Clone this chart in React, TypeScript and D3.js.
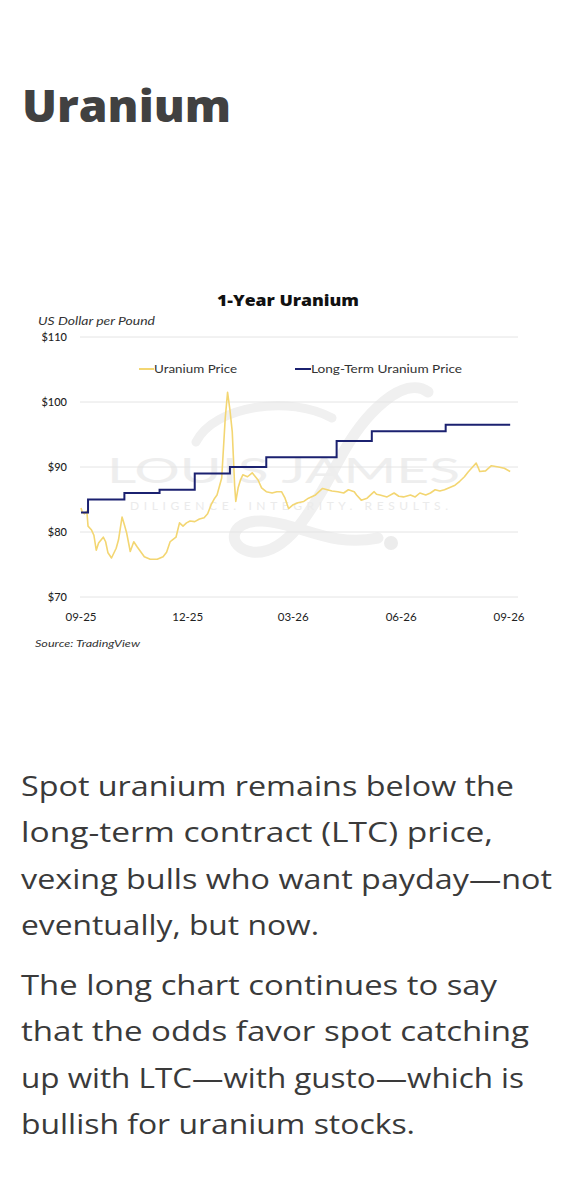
import React from "react";
import * as d3 from "d3";

// ---------- data ----------
const spotDates = [
  "2025-09-01","2025-09-02","2025-09-04","2025-09-06","2025-09-07","2025-09-10","2025-09-12","2025-09-14","2025-09-16","2025-09-20",
  "2025-09-22","2025-09-24","2025-09-27","2025-10-01","2025-10-03","2025-10-06","2025-10-08","2025-10-10","2025-10-13","2025-10-16",
  "2025-10-19","2025-10-25","2025-10-30","2025-11-05","2025-11-10","2025-11-13","2025-11-16","2025-11-18","2025-11-21","2025-11-24",
  "2025-11-27","2025-11-30","2025-12-03","2025-12-07","2025-12-11","2025-12-15","2025-12-18","2025-12-21","2025-12-24","2025-12-26",
  "2025-12-30","2026-01-02","2026-01-04","2026-01-06","2026-01-08","2026-01-10","2026-01-11","2026-01-13","2026-01-15","2026-01-17",
  "2026-01-21","2026-01-25","2026-01-30","2026-02-02","2026-02-06","2026-02-11","2026-02-15","2026-02-19","2026-02-22","2026-02-25",
  "2026-03-01","2026-03-05","2026-03-10","2026-03-14","2026-03-20","2026-03-26","2026-03-30","2026-04-03","2026-04-08","2026-04-13",
  "2026-04-17","2026-04-22","2026-04-24","2026-04-28","2026-05-03","2026-05-09","2026-05-11","2026-05-14","2026-05-20","2026-05-26",
  "2026-05-30","2026-06-03","2026-06-09","2026-06-13","2026-06-17","2026-06-22","2026-06-26","2026-06-30","2026-07-04","2026-07-08",
  "2026-07-13","2026-07-17","2026-07-21","2026-07-25","2026-07-28","2026-07-31","2026-08-04","2026-08-06","2026-08-07","2026-08-12",
  "2026-08-17","2026-08-23","2026-08-28","2026-09-02"
];
const spotValues = [
  83.7, 83.1, 82.8, 83.2, 80.9, 80.3, 79.5, 77.2, 78.3, 79.2,
  78.5, 76.8, 76.0, 77.5, 78.8, 82.3, 81.1, 79.8, 77.0, 78.5,
  77.7, 76.2, 75.8, 75.8, 76.2, 76.9, 78.5, 78.8, 79.2, 81.4,
  80.9, 81.4, 81.7, 81.6, 82.0, 82.2, 82.8, 84.2, 85.2, 85.7,
  88.3, 97.5, 101.5, 98.8, 95.4, 87.2, 84.7, 86.8, 88.0, 88.8,
  88.5, 89.1, 88.0, 86.8, 86.2, 86.0, 86.2, 86.2, 85.2, 83.6,
  84.2, 84.5, 84.7, 85.2, 85.7, 86.7, 86.5, 86.3, 86.2, 86.0,
  86.5, 86.2, 85.7, 84.9, 85.2, 86.2, 85.8, 85.7, 85.4, 86.0,
  85.5, 85.4, 85.7, 85.4, 86.0, 85.7, 86.0, 86.5, 86.3, 86.5,
  86.9, 87.2, 87.8, 88.5, 89.2, 89.8, 90.6, 89.8, 89.3, 89.4,
  90.2, 90.0, 89.8, 89.3
];
const ltcDates = [
  "2025-09-01","2025-09-07","2025-10-08","2025-11-07","2025-12-07","2026-01-06",
  "2026-02-06","2026-04-07","2026-05-07","2026-07-09","2026-09-02"
];
const ltcValues = [83, 85, 86, 86.5, 89, 90, 91.5, 94, 95.5, 96.5, 96.5];

const seriesNames = ["Uranium Price", "Long-Term Uranium Price"];
const yTicks = [70, 80, 90, 100, 110];
const xTickDates = ["2025-09-01", "2025-12-01", "2026-03-01", "2026-06-01", "2026-09-01"];
const xTickLabels = ["09-25", "12-25", "03-26", "06-26", "09-26"];

const para1 = [
  "Spot uranium remains below the",
  "long-term contract (LTC) price,",
  "vexing bulls who want payday\u2014not",
  "eventually, but now.",
];
const para2 = [
  "The long chart continues to say",
  "that the odds favor spot catching",
  "up with LTC\u2014with gusto\u2014which is",
  "bullish for uranium stocks.",
];

// ---------- styles ----------
const W = 583;
const H = 1199;
const YELLOW = "#f3d672";
const NAVY = "#1b2170";
const GRID = "#e4e4e4";
const FONT = "Lato, 'Open Sans', sans-serif";
const PFONT = "'Open Sans', Lato, sans-serif";

const para1Widths = [493, 472, 531, 298];
const para2Widths = [476, 508, 503, 394];

export default function App() {
  const parse = d3.utcParse("%Y-%m-%d");
  const x = d3
    .scaleUtc()
    .domain([parse("2025-09-01")!, parse("2026-09-01")!])
    .range([81, 509]);
  const y = d3.scaleLinear().domain([70, 110]).range([597, 337]);

  const spot = spotDates.map((d, i) => ({ date: parse(d)!, value: spotValues[i] }));
  const ltc = ltcDates.map((d, i) => ({ date: parse(d)!, value: ltcValues[i] }));

  const spotLine = d3
    .line<{ date: Date; value: number }>()
    .x((d) => x(d.date))
    .y((d) => y(d.value))
    .curve(d3.curveLinear);
  const ltcLine = d3
    .line<{ date: Date; value: number }>()
    .x((d) => x(d.date))
    .y((d) => y(d.value))
    .curve(d3.curveStepAfter);

  const gridX0 = 80;
  const gridX1 = 518;

  return (
    <div style={{ position: "absolute", left: 0, top: 0, width: W, height: H, background: "#fff" }}>
      <svg width={W} height={H} viewBox={`0 0 ${W} ${H}`} style={{ display: "block" }}>
        <rect x={0} y={0} width={W} height={H} fill="#fff" />

        {/* page heading */}
        <text
          x={22}
          y={122}
          fontFamily={PFONT}
          fontWeight={800}
          fontSize={45}
          fill="#414141"
          textLength={209}
          lengthAdjust="spacingAndGlyphs"
        >
          Uranium
        </text>

        {/* watermark logo (decorative) */}
        <g fill="none" stroke="#f0f0f0" strokeLinecap="round">
          <path d="M 196 442 C 215 405, 290 395, 332 418" strokeWidth={9} />
          <path d="M 428 392 C 405 375, 365 410, 338 462 C 310 515, 285 556, 252 552 C 226 548, 228 520, 262 521 C 300 523, 330 548, 378 538" strokeWidth={11} />
        </g>
        <circle cx={391} cy={543} r={7} fill="#ececec" />
        <text
          x={107}
          y={483}
          fontFamily={FONT}
          fontSize={35}
          fill="#eeeeee"
          textLength={353}
          lengthAdjust="spacingAndGlyphs"
        >
          LOUIS JAMES
        </text>
        <text
          x={130}
          y={510}
          fontFamily={FONT}
          fontSize={12}
          fill="#ebebeb"
          textLength={318}
          lengthAdjust="spacing"
        >
          DILIGENCE. INTEGRITY. RESULTS.
        </text>

        {/* chart title */}
        <text
          x={288}
          y={306}
          textAnchor="middle"
          fontFamily={PFONT}
          fontWeight={800}
          fontSize={16}
          fill="#111"
          textLength={142}
          lengthAdjust="spacingAndGlyphs"
        >
          1-Year Uranium
        </text>

        {/* axis unit */}
        <text
          x={38}
          y={325}
          fontFamily={FONT}
          fontStyle="italic"
          fontSize={11}
          fill="#333"
          textLength={117}
          lengthAdjust="spacingAndGlyphs"
        >
          US Dollar per Pound
        </text>

        {/* grid + y labels */}
        {yTicks.map((t) => (
          <g key={t}>
            <line x1={gridX0} x2={gridX1} y1={y(t)} y2={y(t)} stroke={GRID} strokeWidth={1} />
            <text x={67} y={y(t) + 4} textAnchor="end" fontFamily={FONT} fontSize={11} fill="#222" fontWeight={500}>
              ${t}
            </text>
          </g>
        ))}

        {/* x labels */}
        {xTickDates.map((d, i) => (
          <text
            key={d}
            x={x(parse(d)!)}
            y={621}
            textAnchor="middle"
            fontFamily={FONT}
            fontSize={11.5}
            fill="#222"
          >
            {xTickLabels[i]}
          </text>
        ))}

        {/* legend */}
        <line x1={139} x2={154} y1={369} y2={369} stroke={YELLOW} strokeWidth={2} />
        <text x={154} y={373} fontFamily={FONT} fontSize={11} fill="#333" textLength={83} lengthAdjust="spacingAndGlyphs">
          {seriesNames[0]}
        </text>
        <line x1={295} x2={311} y1={369} y2={369} stroke={NAVY} strokeWidth={2} />
        <text x={311} y={373} fontFamily={FONT} fontSize={11} fill="#333" textLength={151} lengthAdjust="spacingAndGlyphs">
          {seriesNames[1]}
        </text>

        {/* series */}
        <path d={spotLine(spot) || ""} fill="none" stroke={YELLOW} strokeWidth={1.6} strokeLinejoin="round" />
        <path d={ltcLine(ltc) || ""} fill="none" stroke={NAVY} strokeWidth={2} />

        {/* source */}
        <text
          x={35}
          y={647}
          fontFamily={FONT}
          fontStyle="italic"
          fontSize={10}
          fill="#333"
          textLength={105}
          lengthAdjust="spacingAndGlyphs"
        >
          Source: TradingView
        </text>

        {/* body text */}
        {para1.map((line, i) => (
          <text
            key={"p1" + i}
            x={21}
            y={796 + i * 46.3}
            fontFamily={PFONT}
            fontSize={28}
            fontWeight={400}
            fill="#3a3a3a"
            textLength={para1Widths[i]}
            lengthAdjust="spacingAndGlyphs"
          >
            {line}
          </text>
        ))}
        {para2.map((line, i) => (
          <text
            key={"p2" + i}
            x={21}
            y={995 + i * 46.3}
            fontFamily={PFONT}
            fontSize={28}
            fontWeight={400}
            fill="#3a3a3a"
            textLength={para2Widths[i]}
            lengthAdjust="spacingAndGlyphs"
          >
            {line}
          </text>
        ))}
      </svg>
    </div>
  );
}
